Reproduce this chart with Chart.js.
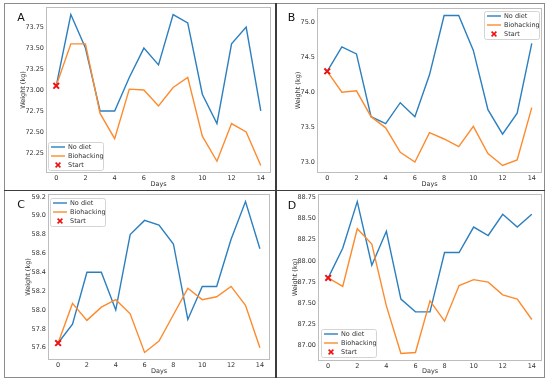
<!DOCTYPE html>
<html><head><meta charset="utf-8">
<script src="https://cdn.jsdelivr.net/npm/chart.js@4.4.0/dist/chart.umd.min.js"></script>
<style>
html,body{margin:0;padding:0;background:#fff;}
#wrap{position:relative;width:550px;height:382px;overflow:hidden;background:#fff;}
canvas{position:absolute;left:0;top:0;}
.frame{position:absolute;left:4px;top:3px;width:541px;height:375px;border:1.5px solid #8c8c8c;box-sizing:border-box;}
.vdiv{position:absolute;left:275px;top:3px;width:1.6px;height:375px;background:#3c3c3c;}
.hdiv{position:absolute;left:4px;top:189.8px;width:541px;height:1.6px;background:#3c3c3c;}
</style></head>
<body>
<div id="wrap">
  <div class="frame"></div><div class="vdiv"></div><div class="hdiv"></div>
  <canvas id="cA" width="550" height="382"></canvas>
  <canvas id="cB" width="550" height="382"></canvas>
  <canvas id="cC" width="550" height="382"></canvas>
  <canvas id="cD" width="550" height="382"></canvas>
</div>
<script>
// ---------- data ----------
const days = [0,1,2,3,4,5,6,7,8,9,10,11,12,13,14];
const xTicks = [0,2,4,6,8,10,12,14];
const seriesNames = ['No diet','Biohacking','Start'];
const panelLetters = ['A','B','C','D'];

const noDietA = [73.05,73.90,73.50,72.75,72.75,73.15,73.50,73.30,73.90,73.80,72.95,72.60,73.55,73.75,72.75];
const bioA    = [73.05,73.55,73.55,72.72,72.42,73.01,73.00,72.81,73.03,73.15,72.45,72.15,72.60,72.50,72.10];
const startA  = 73.05;
const yTicksA = [72.25,72.50,72.75,73.00,73.25,73.50,73.75];

const noDietB = [74.30,74.65,74.55,73.65,73.55,73.85,73.65,74.25,75.10,75.10,74.60,73.75,73.40,73.70,74.70];
const bioB    = [74.30,74.00,74.02,73.65,73.49,73.14,73.00,73.42,73.33,73.22,73.51,73.12,72.95,73.03,73.78];
const startB  = 74.30;
const yTicksB = [73.0,73.5,74.0,74.5,75.0];

const noDietC = [57.65,57.85,58.40,58.40,58.00,58.80,58.95,58.90,58.70,57.90,58.25,58.25,58.75,59.15,58.65];
const bioC    = [57.65,58.07,57.89,58.03,58.11,57.96,57.55,57.67,57.95,58.23,58.11,58.14,58.25,58.05,57.60];
const startC  = 57.65;
const yTicksC = [57.6,57.8,58.0,58.2,58.4,58.6,58.8,59.0,59.2];

const noDietD = [87.80,88.15,88.70,87.95,88.35,87.55,87.40,87.40,88.10,88.10,88.40,88.30,88.55,88.40,88.55];
const bioD    = [87.80,87.70,88.38,88.20,87.47,86.91,86.92,87.53,87.29,87.71,87.78,87.75,87.60,87.55,87.31];
const startD  = 87.80;
const yTicksD = [87.00,87.25,87.50,87.75,88.00,88.25,88.50,88.75];

const xTitle = 'Days';
const yTitle = 'Weight (kg)';

// ---------- layout (page pixels) ----------
const layouts = {
  A:{L:46,T:7,R:271,B:173,axL:5,axB:189,yT:23,xT:184,lx:21,ly:18.5,gx:48,gy:142,dec:2},
  B:{L:317,T:8,R:542,B:173,axL:277,axB:189,yT:298,xT:184,lx:291.5,ly:18,gx:484,gy:11,dec:1},
  C:{L:48,T:194,R:270,B:360,axL:5,axB:377,yT:28,xT:371,lx:21,ly:205.5,gx:50,gy:198,dec:1},
  D:{L:318,T:194,R:542,B:361,axL:277,axB:377,yT:295,xT:371,lx:292,ly:206,gx:321,gy:329,dec:2}
};

const BLUE='#2b7fbf', ORANGE='#fd8b2e', RED='#ee1111';
const FONT="'DejaVu Sans', sans-serif";
const TXT='#333';

const decor = {
  id:'decor',
  afterDraw(chart){
    const o = chart.options.plugins.decor;
    const ctx = chart.ctx, a = chart.chartArea;
    ctx.save();
    // axes box
    ctx.strokeStyle='#bdbdbd'; ctx.lineWidth=1;
    ctx.strokeRect(Math.round(a.left)+0.5, Math.round(a.top)+0.5, Math.round(a.right-a.left)-1, Math.round(a.bottom-a.top)-1);
    // legend
    const gx=o.gx, gy=o.gy, gw=55, gh=28;
    ctx.fillStyle='rgba(255,255,255,0.9)'; ctx.strokeStyle='#d4d4d4';
    ctx.beginPath(); ctx.roundRect(gx+0.5, gy+0.5, gw, gh, 2); ctx.fill(); ctx.stroke();
    ctx.font='6.5px '+FONT; ctx.textBaseline='middle'; ctx.textAlign='left';
    chart.data.datasets.forEach((ds,i)=>{
      const cy = gy + 5 + i*9;
      if (ds.type==='scatter'){
        ctx.strokeStyle=RED; ctx.lineWidth=1.6;
        const cx=gx+10, s=2.4;
        ctx.beginPath(); ctx.moveTo(cx-s,cy-s); ctx.lineTo(cx+s,cy+s); ctx.moveTo(cx-s,cy+s); ctx.lineTo(cx+s,cy-s); ctx.stroke();
      } else {
        ctx.strokeStyle=ds.borderColor; ctx.lineWidth=1.4;
        ctx.beginPath(); ctx.moveTo(gx+3,cy); ctx.lineTo(gx+17,cy); ctx.stroke();
      }
      ctx.fillStyle=TXT; ctx.fillText(ds.label, gx+20, cy+0.5);
    });
    // panel letter
    ctx.fillStyle='#111'; ctx.font='11px '+FONT; ctx.textAlign='center'; ctx.textBaseline='middle';
    ctx.fillText(o.letter, o.lx, o.ly);
    ctx.restore();
  }
};

function range(arrs){
  const all=[].concat(...arrs); const lo=Math.min(...all), hi=Math.max(...all); const m=(hi-lo)*0.05;
  return [lo-m, hi+m];
}

function makePanel(id, letter, noDiet, bio, start, yTicks){
  const g = layouts[letter];
  const [ymin,ymax] = range([noDiet,bio,[start]]);
  const Wy = g.L - g.axL, Hx = g.axB - g.B;
  new Chart(document.getElementById(id), {
    type:'line',
    data:{datasets:[
      {type:'line',label:seriesNames[0],data:days.map((d,i)=>({x:d,y:noDiet[i]})),borderColor:BLUE,backgroundColor:BLUE,borderWidth:1.4,pointRadius:0,tension:0,order:2},
      {type:'line',label:seriesNames[1],data:days.map((d,i)=>({x:d,y:bio[i]})),borderColor:ORANGE,backgroundColor:ORANGE,borderWidth:1.4,pointRadius:0,tension:0,order:1},
      {type:'scatter',label:seriesNames[2],data:[{x:days[0],y:start}],borderColor:RED,backgroundColor:RED,pointStyle:'crossRot',pointRadius:4,borderWidth:2,order:0}
    ]},
    options:{
      responsive:false, animation:false, devicePixelRatio:1,
      layout:{padding:{left:g.axL, top:g.T, right:550-g.R, bottom:382-g.axB}},
      plugins:{legend:{display:false}, tooltip:{enabled:false},
        decor:{letter:letter,lx:g.lx,ly:g.ly,gx:g.gx,gy:g.gy}},
      scales:{
        x:{type:'linear', min:-0.7, max:14.7, offset:false,
          afterBuildTicks:s=>{s.ticks=xTicks.map(v=>({value:v}));},
          afterFit:s=>{s.height=Hx;},
          grid:{display:false,drawTicks:false}, border:{display:false},
          ticks:{autoSkip:false,maxRotation:0,padding:1.5,color:TXT,font:{family:FONT,size:6.5},callback:v=>String(v)},
          title:{display:true,text:xTitle,color:TXT,font:{family:FONT,size:6.5},padding:{top:0,bottom:g.axB-3.9-g.xT}}
        },
        y:{type:'linear', min:ymin, max:ymax,
          afterBuildTicks:s=>{s.ticks=yTicks.map(v=>({value:v}));},
          afterFit:s=>{s.width=Wy;},
          grid:{display:false,drawTicks:false}, border:{display:false},
          ticks:{autoSkip:false,padding:2,color:TXT,font:{family:FONT,size:6.5},callback:v=>Number(v).toFixed(g.dec)},
          title:{display:true,text:yTitle,color:TXT,font:{family:FONT,size:6.5},padding:{top:g.yT-g.axL-3.9,bottom:0}}
        }
      }
    },
    plugins:[decor]
  });
}

makePanel('cA','A',noDietA,bioA,startA,yTicksA);
makePanel('cB','B',noDietB,bioB,startB,yTicksB);
makePanel('cC','C',noDietC,bioC,startC,yTicksC);
makePanel('cD','D',noDietD,bioD,startD,yTicksD);
</script>
</body></html>
